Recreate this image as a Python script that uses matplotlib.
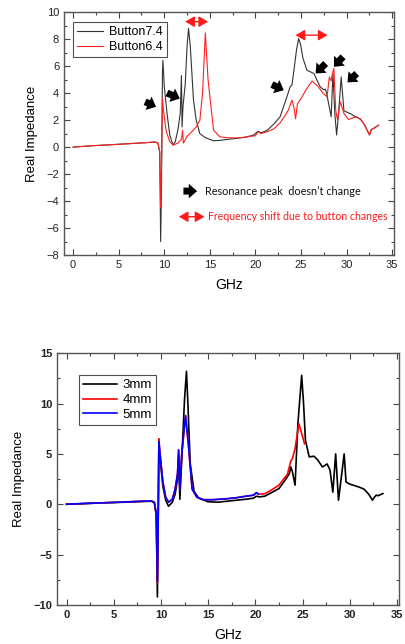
import matplotlib
matplotlib.use("Agg")
import matplotlib.pyplot as plt
from matplotlib.ticker import MultipleLocator


# Top panel: button size comparison
BUTTON74_GHZ = [0, 2, 4, 6, 8, 9.0, 9.3, 9.5, 9.6, 9.7, 9.8, 9.85, 10.0, 10.3, 10.6, 10.95,
                11.2, 11.5, 11.75, 11.88, 11.95, 12.05, 12.3, 12.5, 12.66, 12.85, 13.2, 13.5,
                13.9, 14.5, 15.4, 16.1, 17, 18, 19, 19.8, 20.3, 20.6, 21.3, 22.0, 22.7, 23.45,
                23.8, 24.0, 24.2, 24.5, 24.73, 24.95, 25.2, 25.65, 26.4, 27.1, 27.5, 27.66,
                27.8, 28.0, 28.3, 28.5, 28.7, 28.9, 29.1, 29.4, 29.7, 30.0, 30.5, 30.95, 31.5,
                32.0, 32.5, 32.7, 33.0, 33.5]
BUTTON74_RE = [0.0, 0.1, 0.17, 0.25, 0.33, 0.38, 0.3, -0.4, -7.0, -2.5, 5.5, 6.44, 4.5, 2.5,
               0.9, 0.15, 0.4, 1.3, 2.5, 5.3, 1.5, 3.0, 4.7, 7.5, 8.8, 7.5, 3.5, 2.0,
               1.0, 0.7, 0.47, 0.5, 0.58, 0.65, 0.75, 0.9, 1.18, 1.05, 1.26, 1.7, 2.25, 3.73,
               4.47, 4.6, 5.6, 7.2, 8.05, 7.6, 6.6, 5.7, 5.46, 4.47, 4.25, 4.3,
               4.0, 3.3, 2.25, 5.46, 2.5, 0.9, 2.4, 5.2, 2.7, 2.6, 2.45, 2.25, 2.1,
               1.6, 0.9, 1.3, 1.4, 1.63]

BUTTON64_GHZ = [0, 2, 4, 6, 8, 9.0, 9.3, 9.5, 9.6, 9.7, 9.8, 9.9, 10.2, 10.6, 11.0, 11.5,
                11.9, 12.0, 12.1, 12.5, 13.0, 13.5, 13.9, 14.2, 14.5, 14.8, 15.4, 16.1, 17,
                18, 19, 20.0, 20.3, 20.6, 21.3, 22.0, 22.7, 23.3, 23.6, 24.0, 24.2, 24.4,
                24.6, 25.0, 25.5, 26.2, 26.9, 27.4, 27.85, 28.1, 28.3, 28.45, 28.6, 28.8,
                29.0, 29.3, 29.7, 30.2, 30.6, 31.1, 31.6, 32.0, 32.5, 32.7, 33.0, 33.5]
BUTTON64_RE = [0.0, 0.1, 0.17, 0.25, 0.33, 0.38, 0.3, -0.3, -4.5, -1.0, 3.6, 2.8, 1.2, 0.4,
               0.15, 0.3, 0.6, 1.26, 0.3, 0.8, 1.13, 1.5, 2.0, 4.0, 8.47, 5.0, 1.26, 0.76,
               0.7, 0.68, 0.75, 0.85, 1.15, 1.0, 1.15, 1.35, 1.8, 2.4, 2.74, 3.48, 3.0,
               2.1, 3.2, 3.6, 4.2, 4.9, 4.47, 4.0, 3.73, 5.2, 4.9, 5.5, 5.83, 2.74,
               2.0, 3.36, 2.5, 2.05, 2.15, 2.25, 2.0, 1.6, 0.9, 1.3, 1.4, 1.63]

# Bottom panel: gap size comparison
MM3_GHZ = [0, 2, 4, 6, 8, 9.0, 9.3, 9.5, 9.62, 9.7, 9.78, 9.9, 10.2, 10.5, 10.8, 11.2,
           11.5, 11.75, 11.87, 12.0, 12.2, 12.5, 12.7, 12.85, 13.1, 13.5, 14.0, 15.0, 16,
           17, 18, 19, 19.8, 20.1, 20.4, 21.0, 22.5, 23.3, 23.6, 23.75, 23.9, 24.2, 24.5,
           24.9, 25.1, 25.3, 25.7, 26.2, 26.6, 27.1, 27.6, 27.9, 28.2, 28.5, 28.8, 29.4,
           29.6, 30.0, 31.0, 31.5, 32.0, 32.4, 32.6, 32.8, 33.0, 33.5]
MM3_RE = [0.0, 0.07, 0.14, 0.2, 0.27, 0.3, 0.15, -1.0, -9.2, -2.0, 6.0, 4.6, 1.8, 0.4, -0.2,
          0.2, 1.0, 2.5, 4.8, 0.5, 4.5, 10.5, 13.2, 10.0, 4.0, 1.3, 0.6, 0.25, 0.2,
          0.3, 0.4, 0.5, 0.6, 0.8, 0.73, 0.8, 1.56, 2.6, 3.05, 3.7, 3.3, 1.9, 8.0,
          12.8, 10.0, 6.35, 4.7, 4.77, 4.4, 3.7, 4.0, 3.4, 1.2, 5.0, 0.4, 5.0,
          2.2, 2.0, 1.7, 1.5, 1.0, 0.4, 0.7, 0.9, 0.85, 1.06]

MM4_GHZ = [0, 2, 4, 6, 8, 9.0, 9.3, 9.5, 9.62, 9.7, 9.78, 9.9, 10.2, 10.5, 10.8, 11.2,
           11.5, 11.75, 11.87, 12.0, 12.2, 12.6, 12.9, 13.3, 13.8, 14.5, 15.5, 17, 18, 19,
           19.8, 20.1, 20.4, 21.0, 21.5, 22.5, 23.4, 23.75, 23.9, 24.2, 24.6, 25.0, 25.2]
MM4_RE = [0.0, 0.08, 0.15, 0.22, 0.3, 0.32, 0.2, -1.0, -7.8, -2.0, 6.5, 5.0, 2.2, 0.7, 0.2,
          0.5, 1.5, 3.0, 5.4, 1.4, 5.0, 8.8, 6.0, 1.5, 0.7, 0.45, 0.45, 0.55, 0.65, 0.8,
          0.9, 1.15, 1.0, 1.05, 1.3, 1.9, 3.0, 4.3, 4.5, 5.5, 8.0, 6.7, 6.0]

MM5_GHZ = [0, 2, 4, 6, 8, 9.0, 9.3, 9.5, 9.62, 9.7, 9.78, 9.9, 10.2, 10.5, 10.8, 11.2,
           11.5, 11.75, 11.87, 12.0, 12.2, 12.6, 12.9, 13.3, 13.8, 14.5, 15.5, 17, 18, 19,
           19.8, 20.1, 20.3]
MM5_RE = [0.0, 0.08, 0.15, 0.22, 0.3, 0.32, 0.2, -1.0, -7.7, -2.0, 6.2, 5.0, 2.2, 0.7, 0.2,
          0.5, 1.5, 3.0, 5.4, 1.4, 5.0, 8.8, 6.0, 1.5, 0.7, 0.45, 0.45, 0.55, 0.65, 0.8,
          0.9, 1.15, 1.0]

# Black "no change" markers: (tail, head) in data coords
NO_CHANGE_ARROWS = [
    ((7.9, 3.36), (9.1, 2.99)),
    ((10.3, 4.01), (11.7, 3.6)),
    ((21.8, 4.64), (23.1, 4.22)),
    ((27.7, 6.2), (26.6, 5.46)),
    ((29.6, 6.7), (28.6, 5.95)),
    ((31.1, 5.46), (30.1, 4.8)),
]
# Red frequency shift markers: (x_start, x_end, y)
SHIFT_ARROWS = [(12.3, 14.8, 9.3), (24.4, 27.9, 8.3)]

NOTE_BLACK = "Resonance peak  doesn\u2019t change"
NOTE_RED = "Frequency shift due to button changes"

FONT = "Liberation Sans"
NOTE_FONT = "Lato"


def style_axes(ax, ymajor, ymin, ymax, bold=False):
    ax.set_xlim(-1.0, 35.2)
    ax.set_ylim(ymin, ymax)
    ax.xaxis.set_major_locator(MultipleLocator(5))
    ax.xaxis.set_minor_locator(MultipleLocator(2.5))
    ax.yaxis.set_major_locator(MultipleLocator(ymajor))
    ax.yaxis.set_minor_locator(MultipleLocator(ymajor / 2))
    ax.tick_params(which="both", direction="in", top=True, right=True, colors="#444444",
                   labelcolor="#222222", labelsize=8, width=0.8)
    ax.tick_params(which="major", length=4)
    ax.tick_params(which="minor", length=2)
    for spine in ax.spines.values():
        spine.set_color("#555555")
        spine.set_linewidth(1.0)
    for lab in ax.get_xticklabels() + ax.get_yticklabels():
        lab.set_fontfamily(FONT)
        if bold:
            lab.set_fontweight("bold")
    ax.set_xlabel("GHz", fontsize=10, family=FONT, labelpad=6)
    ax.set_ylabel("Real Impedance", fontsize=9.5, family=FONT, labelpad=6)


def draw_top(fig):
    ax = fig.add_axes([0.158, 0.604, 0.815, 0.377])
    ax.plot(BUTTON74_GHZ, BUTTON74_RE, color="#333333", lw=0.8, label="Button7.4")
    ax.plot(BUTTON64_GHZ, BUTTON64_RE, color="#ff2020", lw=0.8, label="Button6.4")
    style_axes(ax, 2, -8, 10)

    block = "simple,head_length=0.6,head_width=1.05,tail_width=0.5"
    for tail, head in NO_CHANGE_ARROWS:
        ax.annotate("", xy=head, xytext=tail,
                    arrowprops=dict(arrowstyle=block, color="black", lw=0, shrinkA=0, shrinkB=0))
    dbl = "<|-|>,head_length=0.55,head_width=0.32"
    for x0, x1, y in SHIFT_ARROWS:
        ax.annotate("", xy=(x1, y), xytext=(x0, y),
                    arrowprops=dict(arrowstyle=dbl, color="#ff1a1a", lw=1.0, shrinkA=0, shrinkB=0))

    ax.annotate("", xy=(13.6, -3.26), xytext=(12.1, -3.26),
                arrowprops=dict(arrowstyle=block, color="black", lw=0, shrinkA=0, shrinkB=0))
    ax.text(14.5, -3.26, NOTE_BLACK, fontsize=7.8, family=NOTE_FONT, va="center", ha="left",
            color="#111111")
    ax.annotate("", xy=(14.4, -5.16), xytext=(11.6, -5.16),
                arrowprops=dict(arrowstyle=dbl, color="#ff1a1a", lw=1.0, shrinkA=0, shrinkB=0))
    ax.text(14.8, -5.16, NOTE_RED, fontsize=7.6, family=NOTE_FONT, va="center", ha="left",
            color="#ff1a1a")

    leg = ax.legend(loc="upper left", bbox_to_anchor=(0.027, 0.959), fancybox=False,
                    edgecolor="#222222", handlelength=2.1, borderpad=0.3, labelspacing=0.25,
                    handletextpad=0.5, borderaxespad=0, prop={"family": FONT, "size": 9})
    leg.get_frame().set_linewidth(0.8)


def draw_bottom(fig):
    ax = fig.add_axes([0.141, 0.0606, 0.844, 0.391])
    ax.plot(MM3_GHZ, MM3_RE, color="black", lw=1.2, label="3mm")
    ax.plot(MM4_GHZ, MM4_RE, color="red", lw=1.2, label="4mm")
    ax.plot(MM5_GHZ, MM5_RE, color="blue", lw=1.2, label="5mm")
    style_axes(ax, 5, -10, 15, bold=True)

    leg = ax.legend(loc="upper left", bbox_to_anchor=(0.064, 0.913), fancybox=False,
                    edgecolor="#222222", handlelength=2.6, borderpad=0.3, labelspacing=0.2,
                    handletextpad=0.4, borderaxespad=0, prop={"family": FONT, "size": 9.5})
    leg.get_frame().set_linewidth(0.8)


def main():
    fig = plt.figure(figsize=(4.05, 6.44), dpi=100)
    draw_top(fig)
    draw_bottom(fig)
    fig.savefig("out.png", dpi=100)
    plt.close(fig)


if __name__ == "__main__":
    main()
